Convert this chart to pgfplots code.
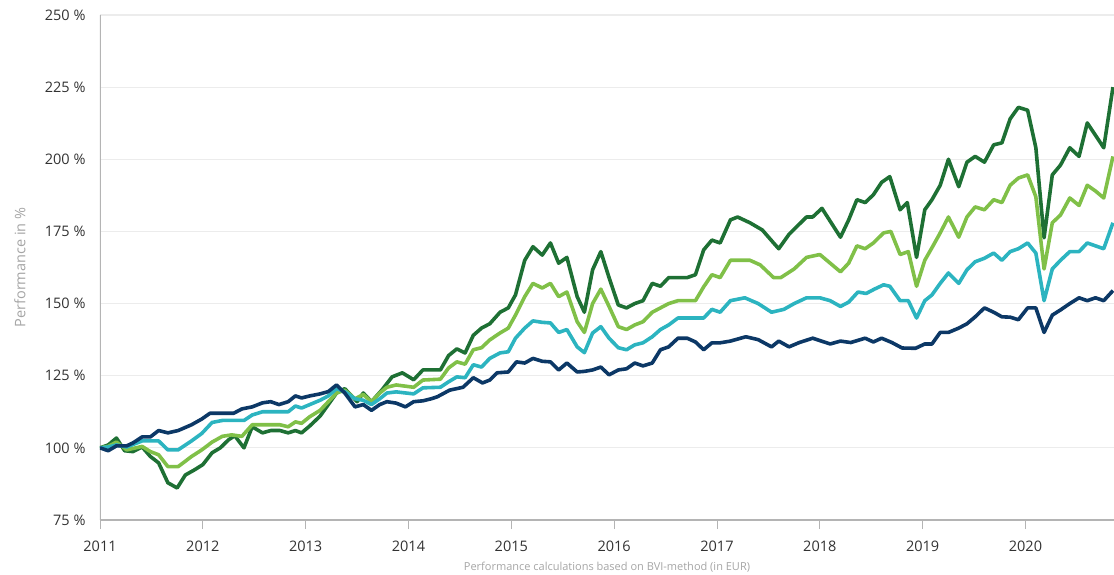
\documentclass[border=0pt]{standalone}
\usepackage{pgfplots}
\pgfplotsset{compat=1.18}
\usepackage{fontspec}
\setmainfont{Open Sans}
\definecolor{dgreen}{RGB}{30,112,52}
\definecolor{lgreen}{RGB}{128,192,72}
\definecolor{teal2}{RGB}{44,180,192}
\definecolor{navy}{RGB}{12,56,102}
\definecolor{gridc}{RGB}{236,236,236}
\definecolor{axc}{RGB}{180,180,180}
\definecolor{labc}{RGB}{165,165,165}
\definecolor{tickc}{RGB}{50,50,50}
\begin{document}
\begin{tikzpicture}
\path[use as bounding box] (-100pt,-54pt) rectangle (1014pt,520pt);
\begin{axis}[
  scale only axis, width=1014pt, height=505pt,
  xmin=2011, xmax=2020.86, ymin=75, ymax=250,
  axis x line*=bottom, axis y line*=left,
  axis line style={draw=none},
  xtick={2011,2012,...,2020}, ytick={75,100,...,250},
  ymajorgrids, grid style={gridc, line width=1.2pt},
  x tick style={axc, line width=0.8pt}, major tick length=9pt,
  xtick pos=bottom, ytick style={draw=none},
  tick align=outside,
  /pgf/number format/1000 sep={},
  /pgf/number format/assume math mode=true,
  x tick label style={font=\fontsize{14.5}{16}\selectfont, text=tickc, yshift=-8pt},
  y tick label style={font=\fontsize{14.5}{16}\selectfont, text=tickc, xshift=-2pt},
  yticklabel={\pgfmathprintnumber{\tick} \%},
  ylabel={Performance in \%},
  ylabel style={font=\fontsize{14.5}{16}\selectfont, text=labc, at={(axis description cs:-0.079,0.5)}, anchor=center},
  xlabel={Performance calculations based on BVI-method (in EUR)},
  xlabel style={font=\fontsize{11}{13}\selectfont, text=labc, yshift=-4pt},
  clip=true,
  every axis plot/.append style={line width=3.6pt, line join=round, no marks},
]
\draw[axc, line width=1.5pt] (axis cs:2011,75) -- (axis cs:2020.86,75);
\draw[axc, line width=2.5pt] (axis cs:2011,75) -- (axis cs:2011,250);
\addplot[dgreen] coordinates {
(2011.00,100) (2011.08,101) (2011.16,103.4) (2011.24,99) (2011.32,98.7) (2011.41,100.3) (2011.49,97) (2011.57,94.8) (2011.66,87.9) (2011.75,86.1) (2011.83,90.6) (2011.92,92.4) (2012.00,94.2) (2012.09,98.3) (2012.17,100) (2012.25,102.8) (2012.31,104.2) (2012.40,100) (2012.48,107.3) (2012.58,105.2) (2012.66,106) (2012.75,106) (2012.83,105.2) (2012.90,106) (2012.96,105.2) (2013.04,107.6) (2013.14,111) (2013.22,115) (2013.30,119) (2013.38,120.5) (2013.50,116) (2013.56,119) (2013.64,116) (2013.74,120) (2013.84,124.6) (2013.94,126) (2014.05,123.6) (2014.14,127) (2014.31,127) (2014.39,132) (2014.47,134.3) (2014.55,132.9) (2014.63,139) (2014.71,141.5) (2014.79,143) (2014.89,147) (2014.97,148.5) (2015.04,153) (2015.13,165) (2015.21,169.7) (2015.30,166.8) (2015.38,171) (2015.46,164) (2015.54,166) (2015.64,152.4) (2015.71,147) (2015.79,161.7) (2015.87,168) (2015.95,159) (2016.04,149.5) (2016.12,148.5) (2016.20,150) (2016.28,151) (2016.37,157) (2016.45,156) (2016.53,159) (2016.71,159) (2016.79,160) (2016.87,168.6) (2016.95,172) (2017.03,171) (2017.13,179) (2017.20,180) (2017.32,178) (2017.44,175.5) (2017.55,171) (2017.60,169) (2017.70,174) (2017.87,180) (2017.93,180) (2018.02,183) (2018.20,173) (2018.28,179) (2018.36,186) (2018.44,185) (2018.52,187.7) (2018.60,192) (2018.68,194) (2018.78,182.5) (2018.85,185) (2018.94,166) (2019.02,182.5) (2019.09,186) (2019.17,191) (2019.25,200) (2019.35,190.5) (2019.43,199) (2019.51,201) (2019.60,199) (2019.69,205) (2019.77,205.7) (2019.85,214) (2019.93,218) (2020.02,217) (2020.10,204) (2020.18,172.8) (2020.26,194.6) (2020.34,198) (2020.43,204) (2020.52,201) (2020.60,212.6) (2020.76,204) (2020.85,225)
};
\addplot[lgreen] coordinates {
(2011.00,100) (2011.08,100.5) (2011.16,102) (2011.26,99.3) (2011.41,100.5) (2011.49,98.7) (2011.57,97.6) (2011.66,93.5) (2011.76,93.5) (2011.89,97) (2011.99,99.3) (2012.09,102) (2012.19,104) (2012.28,104.5) (2012.38,104) (2012.48,108) (2012.75,108) (2012.83,107.3) (2012.90,109) (2012.96,108.5) (2013.04,110.8) (2013.14,113) (2013.22,116) (2013.30,119) (2013.38,120) (2013.48,117) (2013.56,118.5) (2013.64,116) (2013.72,119) (2013.79,121) (2013.88,121.8) (2014.05,121) (2014.14,123.5) (2014.31,123.8) (2014.39,127.7) (2014.47,129.8) (2014.55,129) (2014.63,134) (2014.71,134.7) (2014.79,137.4) (2014.89,139.8) (2014.97,141.5) (2015.04,146) (2015.13,152.4) (2015.21,157) (2015.30,155.4) (2015.38,157) (2015.46,152.4) (2015.54,154) (2015.64,143.7) (2015.71,140) (2015.79,150) (2015.87,155) (2015.95,149) (2016.04,142) (2016.12,141) (2016.20,142.6) (2016.28,143.7) (2016.37,147) (2016.45,148.5) (2016.53,150) (2016.62,151) (2016.79,151) (2016.87,155.8) (2016.95,160) (2017.03,159) (2017.13,165) (2017.32,165) (2017.42,163.4) (2017.55,159) (2017.62,159) (2017.75,162) (2017.87,166) (2018.00,167) (2018.10,164) (2018.20,161) (2018.28,164) (2018.36,170) (2018.44,169) (2018.52,171) (2018.62,174.5) (2018.69,175) (2018.78,167) (2018.86,168) (2018.94,156) (2019.02,165) (2019.10,170) (2019.17,174.5) (2019.25,180) (2019.35,173) (2019.43,180) (2019.51,183.5) (2019.60,182.5) (2019.69,186) (2019.77,185) (2019.85,191) (2019.93,193.5) (2020.02,194.6) (2020.10,187) (2020.18,162) (2020.26,178) (2020.34,180.7) (2020.43,186.6) (2020.52,184) (2020.60,191) (2020.68,189) (2020.76,186.6) (2020.85,201)
};
\addplot[teal2] coordinates {
(2011.00,100) (2011.08,100.3) (2011.16,101) (2011.26,100.3) (2011.41,102.4) (2011.57,102.4) (2011.66,99.3) (2011.76,99.3) (2011.89,102.4) (2011.99,105) (2012.09,108.8) (2012.19,109.5) (2012.40,109.5) (2012.48,111.4) (2012.58,112.5) (2012.83,112.5) (2012.90,114.5) (2012.96,113.8) (2013.04,115) (2013.14,116.5) (2013.22,118) (2013.30,120.5) (2013.38,119.5) (2013.48,117) (2013.56,116.5) (2013.64,115) (2013.72,117) (2013.79,119) (2013.88,119.4) (2014.05,118.7) (2014.14,120.8) (2014.31,121) (2014.39,122.9) (2014.47,124.6) (2014.55,124.3) (2014.63,128.8) (2014.71,128) (2014.79,131) (2014.89,132.9) (2014.97,133.3) (2015.04,138) (2015.13,141.5) (2015.21,144) (2015.30,143.5) (2015.38,143.3) (2015.46,140) (2015.54,141) (2015.64,135) (2015.71,133) (2015.79,139.8) (2015.87,142) (2015.95,138) (2016.04,134.7) (2016.12,134) (2016.20,135.7) (2016.28,136.4) (2016.37,138.5) (2016.45,141) (2016.53,142.6) (2016.62,145) (2016.87,145) (2016.95,148) (2017.03,147) (2017.13,151) (2017.27,152) (2017.40,150) (2017.53,147) (2017.65,148) (2017.75,150) (2017.87,152) (2018.00,152) (2018.10,151) (2018.20,149) (2018.28,150.5) (2018.37,154) (2018.45,153.5) (2018.53,155) (2018.62,156.5) (2018.68,156) (2018.78,151) (2018.86,151) (2018.94,145) (2019.02,151) (2019.09,153) (2019.17,157) (2019.25,160.6) (2019.35,157) (2019.43,161.7) (2019.51,164.5) (2019.60,165.7) (2019.69,167.5) (2019.77,165) (2019.85,168) (2019.93,169) (2020.02,171) (2020.10,167.5) (2020.18,151) (2020.26,162) (2020.34,165) (2020.43,168) (2020.52,168) (2020.60,171) (2020.68,170) (2020.76,169) (2020.85,178)
};
\addplot[navy] coordinates {
(2011.00,100) (2011.08,99) (2011.16,100.7) (2011.26,100.7) (2011.32,101.7) (2011.41,103.8) (2011.49,103.8) (2011.57,106) (2011.66,105.2) (2011.76,106) (2011.89,108) (2011.99,110) (2012.07,112) (2012.30,112) (2012.38,113.5) (2012.48,114.2) (2012.58,115.6) (2012.66,116) (2012.74,115) (2012.83,116) (2012.90,118) (2012.96,117.3) (2013.04,118) (2013.14,118.7) (2013.22,119.5) (2013.30,121.8) (2013.38,119) (2013.48,114.2) (2013.56,115) (2013.64,113) (2013.72,115) (2013.79,116) (2013.88,115.5) (2013.97,114.2) (2014.05,116) (2014.14,116.3) (2014.22,117) (2014.28,117.7) (2014.40,120) (2014.53,121) (2014.63,124.3) (2014.72,122.5) (2014.79,123.5) (2014.86,126) (2014.97,126.3) (2015.05,129.8) (2015.13,129.4) (2015.21,131) (2015.30,130) (2015.38,129.8) (2015.46,127) (2015.54,129.4) (2015.64,126.3) (2015.71,126.5) (2015.79,127) (2015.87,128) (2015.95,125.3) (2016.04,127) (2016.12,127.4) (2016.20,129.4) (2016.28,128.4) (2016.37,129.4) (2016.45,134) (2016.53,135) (2016.62,138) (2016.71,138) (2016.79,136.7) (2016.87,134) (2016.95,136.4) (2017.03,136.4) (2017.13,137) (2017.28,138.5) (2017.40,137.5) (2017.53,135) (2017.60,137) (2017.70,135) (2017.80,136.5) (2017.93,138) (2018.10,136) (2018.20,137) (2018.30,136.5) (2018.44,138) (2018.52,136.7) (2018.60,138) (2018.70,136.5) (2018.80,134.6) (2018.93,134.5) (2019.02,136) (2019.09,136) (2019.17,140) (2019.25,140) (2019.35,141.5) (2019.43,143) (2019.51,145.4) (2019.60,148.5) (2019.69,147) (2019.77,145.4) (2019.85,145.3) (2019.93,144.4) (2020.02,148.5) (2020.10,148.5) (2020.18,140) (2020.26,146) (2020.34,147.8) (2020.43,150) (2020.52,152) (2020.60,151) (2020.68,152) (2020.76,151) (2020.85,154.5)
};
\end{axis}
\end{tikzpicture}
\end{document}
